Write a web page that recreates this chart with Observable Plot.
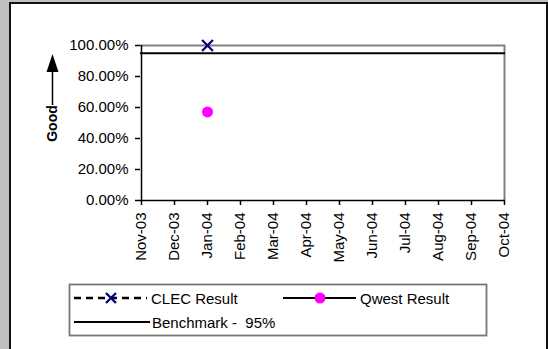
<!DOCTYPE html>
<html>
<head>
<meta charset="utf-8">
<script src="https://cdn.jsdelivr.net/npm/d3@7"></script>
<script src="https://cdn.jsdelivr.net/npm/@observablehq/plot@0.6"></script>
<style>
  html, body { margin: 0; padding: 0; }
  body { width: 548px; height: 349px; background: #c0c0c0; position: relative; overflow: hidden; font-family: Arial, "Liberation Sans", sans-serif; }
  #panel { position: absolute; left: 9px; top: 2px; width: 535px; height: 400px; background: #fff; border: 2px solid #111; border-bottom: none; }
  #chart { position: absolute; left: 0; top: 0; }
  #overlay { position: absolute; left: 0; top: 0; }
</style>
</head>
<body>
<div id="panel"></div>
<div id="chart"></div>
<svg id="overlay" width="548" height="349"></svg>
<script>
const months = ["Nov-03","Dec-03","Jan-04","Feb-04","Mar-04","Apr-04","May-04","Jun-04","Jul-04","Aug-04","Sep-04","Oct-04"];
const clecValues  = [null, null, 1.0,    null, null, null, null, null, null, null, null, null];
const qwestValues = [null, null, 0.5714, null, null, null, null, null, null, null, null, null];
const benchmark = 0.95;
const yTicks = [0, 0.2, 0.4, 0.6, 0.8, 1.0];

const rows = months.map((m, i) => ({month: m, clec: clecValues[i], qwest: qwestValues[i]}));
const clecRows = rows.filter(d => d.clec != null);
const qwestRows = rows.filter(d => d.qwest != null);

const chart = Plot.plot({
  width: 548,
  height: 349,
  marginLeft: 140,
  marginRight: 43,
  marginTop: 45,
  marginBottom: 149,
  style: {background: "none", fontFamily: "Arial, 'Liberation Sans', sans-serif", fontSize: "15px", color: "#000", overflow: "visible"},
  x: {type: "point", domain: months, padding: 0, label: null},
  y: {domain: [0, 1], label: null},
  marks: [
    Plot.axisY({ticks: yTicks, tickFormat: d3.format(".2%"), tickSize: 5, tickPadding: 7, fontSize: 15, label: null, strokeWidth: 1.5}),
    Plot.axisX({tickRotate: -90, tickSize: 5, tickPadding: 7, fontSize: 15, label: null, strokeWidth: 1.5}),
    Plot.ruleY([1], {stroke: "#808080", strokeWidth: 2}),
    Plot.ruleX([months[months.length - 1]], {stroke: "#808080", strokeWidth: 2}),
    Plot.ruleX([months[0]], {stroke: "#000", strokeWidth: 1.5}),
    Plot.ruleY([0], {stroke: "#000", strokeWidth: 1.5}),
    Plot.ruleY([benchmark], {stroke: "#000", strokeWidth: 1.8}),
    Plot.lineY(clecRows, {x: "month", y: "clec", stroke: "#000", strokeDasharray: "7,5", strokeWidth: 2}),
    Plot.dot(clecRows, {x: "month", y: "clec", symbol: "times", r: 5, stroke: "#000080", strokeWidth: 2.2}),
    Plot.lineY(qwestRows, {x: "month", y: "qwest", stroke: "#000", strokeWidth: 2}),
    Plot.dot(qwestRows, {x: "month", y: "qwest", r: 5.5, fill: "#ff00ff", stroke: "none"})
  ]
});
document.getElementById("chart").appendChild(chart);

// Overlay: "Good" arrow label and legend
const svg = d3.select("#overlay");
const F = "Arial, 'Liberation Sans', sans-serif";
// arrow
svg.append("line").attr("x1", 52.5).attr("x2", 52.5).attr("y1", 105).attr("y2", 68).attr("stroke", "#000").attr("stroke-width", 1.5);
svg.append("path").attr("d", "M52.5,54 L46.5,72 L58.5,72 Z").attr("fill", "#000");
svg.append("text").attr("transform", "translate(57,123.5) rotate(-90)").attr("text-anchor", "middle")
  .attr("font-family", F).attr("font-size", 14).attr("font-weight", "bold").text("Good");

// legend box
svg.append("rect").attr("x", 69.5).attr("y", 284.5).attr("width", 417).attr("height", 51)
  .attr("fill", "#fff").attr("stroke", "#777").attr("stroke-width", 1.8);
// CLEC
svg.append("line").attr("x1", 74).attr("x2", 147).attr("y1", 298).attr("y2", 298)
  .attr("stroke", "#000").attr("stroke-width", 2.5).attr("stroke-dasharray", "7,5");
svg.append("path").attr("d", "M106,293 L116,303 M116,293 L106,303").attr("stroke", "#000080").attr("stroke-width", 2.4);
svg.append("text").attr("x", 151).attr("y", 303.5).attr("font-family", F).attr("font-size", 15).text("CLEC Result");
// Qwest
svg.append("line").attr("x1", 283).attr("x2", 356).attr("y1", 298).attr("y2", 298)
  .attr("stroke", "#000").attr("stroke-width", 2);
svg.append("circle").attr("cx", 320).attr("cy", 298).attr("r", 5.5).attr("fill", "#ff00ff");
svg.append("text").attr("x", 360).attr("y", 303.5).attr("font-family", F).attr("font-size", 15).text("Qwest Result");
// Benchmark
svg.append("line").attr("x1", 74).attr("x2", 150).attr("y1", 322).attr("y2", 322)
  .attr("stroke", "#000").attr("stroke-width", 1.8);
svg.append("text").attr("x", 152).attr("y", 327.5).attr("font-family", F).attr("font-size", 15)
  .attr("xml:space", "preserve").style("white-space", "pre").text("Benchmark -  " + d3.format(".0%")(benchmark));
</script>
</body>
</html>
